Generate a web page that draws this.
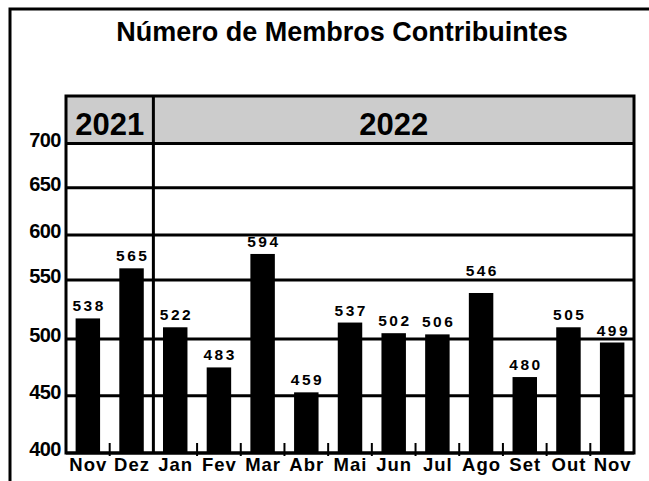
<!DOCTYPE html>
<html>
<head>
<meta charset="utf-8">
<script src="https://cdn.jsdelivr.net/npm/d3@7"></script>
<style>
  body { margin: 0; background: #fff; }
  text { font-family: "Liberation Sans", Arial, sans-serif; font-weight: bold; fill: #000; }
</style>
</head>
<body>
<div id="chart"></div>
<script>
// months shown on the x axis (Nov 2021 .. Nov 2022)
const months = ["Nov", "Dez", "Jan", "Fev", "Mar", "Abr", "Mai", "Jun", "Jul", "Ago", "Set", "Out", "Nov"];
const years = ["2021", "2022"];
const monthsPerYear = [2, 11];
// numbers printed above the bars
const printedValues = [538, 565, 522, 483, 594, 459, 537, 502, 506, 546, 480, 505, 499];
// bar heights as read against the y axis
const barValues = [517.5, 563, 510, 475, 579, 453, 514, 505, 504, 539, 466.5, 510, 497];
const yTicks = [400, 450, 500, 550, 600, 650, 700];

const w = 649;
const h = 481;
const plotLeft = 66;
const plotRight = 634;
const plotTop = 96;
const bandBottom = 143.5;
const plotBottom = 453;

const svg = d3
  .select("#chart")
  .append("svg")
  .attr("width", w)
  .attr("height", h);

svg.append("rect").attr("width", w).attr("height", h).attr("fill", "#fff");

// outer frame, runs off the right and bottom edge
svg
  .append("rect")
  .attr("x", 10)
  .attr("y", 9)
  .attr("width", 700)
  .attr("height", 600)
  .attr("fill", "none")
  .attr("stroke", "#000")
  .attr("stroke-width", 3);

svg
  .append("text")
  .attr("x", 342)
  .attr("y", 41)
  .attr("text-anchor", "middle")
  .attr("font-size", 27)
  .text("Número de Membros Contribuintes");

const xScale = d3
  .scaleBand()
  .domain(d3.range(months.length))
  .range([plotLeft, plotRight])
  .paddingInner(0.44)
  .paddingOuter(0.22);

// the original axis is not evenly spaced
const gridFrac = [0, 0.185, 0.368, 0.559, 0.704, 0.857, 1];
const yScale = d3
  .scaleLinear()
  .domain(yTicks)
  .range(gridFrac.map((f) => plotBottom - f * (plotBottom - bandBottom)));

// year header band
svg
  .append("rect")
  .attr("x", plotLeft)
  .attr("y", plotTop)
  .attr("width", plotRight - plotLeft)
  .attr("height", yScale(700) - plotTop)
  .attr("fill", "#cccccc");

svg
  .selectAll(".bar")
  .data(barValues)
  .enter()
  .append("rect")
  .attr("class", "bar")
  .attr("x", (d, i) => xScale(i))
  .attr("y", (d) => yScale(d))
  .attr("width", xScale.bandwidth())
  .attr("height", (d) => plotBottom - yScale(d))
  .attr("fill", "#000");

svg
  .selectAll(".grid")
  .data(yTicks)
  .enter()
  .append("line")
  .attr("class", "grid")
  .attr("x1", plotLeft)
  .attr("x2", plotRight)
  .attr("y1", (d) => yScale(d))
  .attr("y2", (d) => yScale(d))
  .attr("stroke", "#000")
  .attr("stroke-width", 3);

// plot frame
svg
  .append("rect")
  .attr("x", plotLeft)
  .attr("y", plotTop)
  .attr("width", plotRight - plotLeft)
  .attr("height", plotBottom - plotTop)
  .attr("fill", "none")
  .attr("stroke", "#000")
  .attr("stroke-width", 3);

const step = xScale.step();
const sepX = plotLeft + monthsPerYear[0] * step;

svg
  .append("line")
  .attr("x1", sepX)
  .attr("x2", sepX)
  .attr("y1", plotTop)
  .attr("y2", plotBottom)
  .attr("stroke", "#000")
  .attr("stroke-width", 3);

// little ticks between months
svg
  .selectAll(".tick")
  .data(d3.range(1, months.length).filter((k) => k !== monthsPerYear[0]))
  .enter()
  .append("line")
  .attr("class", "tick")
  .attr("x1", (k) => plotLeft + k * step)
  .attr("x2", (k) => plotLeft + k * step)
  .attr("y1", plotBottom - 10)
  .attr("y2", plotBottom + 3)
  .attr("stroke", "#000")
  .attr("stroke-width", 2);

let start = 0;
years.forEach((yr, i) => {
  const x0 = plotLeft + start * step;
  const x1 = plotLeft + (start + monthsPerYear[i]) * step;
  svg
    .append("text")
    .attr("x", (x0 + x1) / 2)
    .attr("y", 134.5)
    .attr("text-anchor", "middle")
    .attr("font-size", 31)
    .text(yr);
  start += monthsPerYear[i];
});

svg
  .selectAll(".ylab")
  .data(yTicks)
  .enter()
  .append("text")
  .attr("class", "ylab")
  .attr("x", 61)
  .attr("y", (d) => yScale(d) + 3)
  .attr("text-anchor", "end")
  .attr("font-size", 20)
  .attr("letter-spacing", -0.5)
  .text((d) => d);

// value label sits just above its bar, pushed over a grid line if it would cross one
const labelY = (v) => {
  let base = yScale(v) - 7;
  yTicks.forEach((t) => {
    const gy = yScale(t);
    if (base - 10 < gy + 1.5 && base > gy - 1.5) base = gy - 4;
  });
  return base;
};

svg
  .selectAll(".val")
  .data(printedValues)
  .enter()
  .append("text")
  .attr("class", "val")
  .attr("x", (d, i) => xScale(i) + xScale.bandwidth() / 2 + 1.25)
  .attr("y", (d, i) => labelY(barValues[i]))
  .attr("text-anchor", "middle")
  .attr("font-size", 15.5)
  .attr("letter-spacing", 2.5)
  .text((d) => d);

svg
  .selectAll(".month")
  .data(months)
  .enter()
  .append("text")
  .attr("class", "month")
  .attr("x", (d, i) => xScale(i) + xScale.bandwidth() / 2 + 0.5)
  .attr("y", 471)
  .attr("text-anchor", "middle")
  .attr("font-size", 18.5)
  .attr("letter-spacing", 1)
  .text((d) => d);
</script>
</body>
</html>
